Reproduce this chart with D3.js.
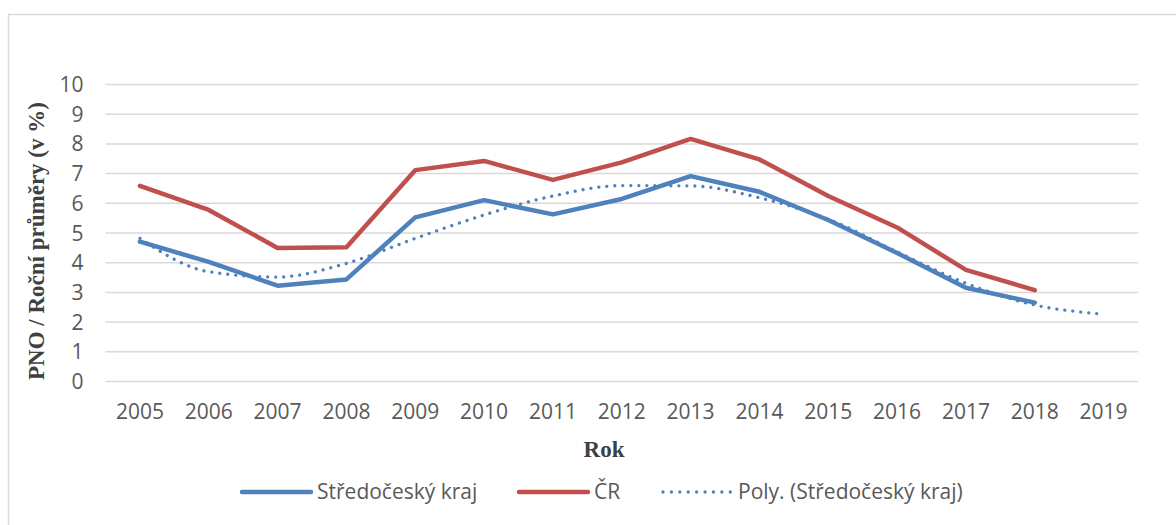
<!DOCTYPE html>
<html>
<head>
<meta charset="utf-8">
<script src="https://cdn.jsdelivr.net/npm/d3@7"></script>
<style>
  body { margin: 0; background: #fff; }
  svg { display: block; }
</style>
</head>
<body>
<div id="chart"></div>
<script>
const years = ['2005', '2006', '2007', '2008', '2009', '2010', '2011', '2012', '2013', '2014', '2015', '2016', '2017', '2018', '2019']
const stredocesky = [4.69, 4.01, 3.21, 3.42, 5.51, 6.09, 5.61, 6.13, 6.9, 6.37, 5.42, 4.31, 3.14, 2.64]
const cr = [6.57, 5.76, 4.48, 4.5, 7.1, 7.41, 6.77, 7.36, 8.15, 7.46, 6.23, 5.17, 3.74, 3.06]
const polyTrend = [4.8, 3.68, 3.5, 3.96, 4.8, 5.59, 6.23, 6.58, 6.57, 6.17, 5.45, 4.35, 3.29, 2.56, 2.25]
const yTicks = [0, 1, 2, 3, 4, 5, 6, 7, 8, 9, 10]

const width = 1176,
      height = 525
const margin = {top: 84, right: 38, bottom: 144, left: 105.5}
const blue = '#4f81bd',
      red = '#c0504d',
      textGray = '#595959'

const svg = d3.select('#chart').append('svg')
  .attr('width', width)
  .attr('height', height)

// chart frame (only top and left edges fall inside the picture)
svg.append('rect')
  .attr('x', 8.5)
  .attr('y', 14.5)
  .attr('width', width + 20)
  .attr('height', height + 20)
  .attr('fill', 'none')
  .attr('stroke', '#d9d9d9')
  .attr('stroke-width', 1.5)

const x = d3.scaleBand()
  .domain(years)
  .range([margin.left, width - margin.right])
const y = d3.scaleLinear()
  .domain([0, 10])
  .range([height - margin.bottom, margin.top])
const cx = d => x(d) + x.bandwidth() / 2

// grid + y labels
const yAxis = svg.append('g')
  .attr('transform', `translate(${margin.left},0)`)
  .call(d3.axisLeft(y)
    .tickValues(yTicks)
    .tickSize(-(width - margin.left - margin.right))
    .tickPadding(22))
yAxis.select('.domain').remove()
yAxis.selectAll('.tick line')
  .attr('stroke', '#d9d9d9')
  .attr('stroke-width', 1.5)
yAxis.selectAll('.tick text')
  .attr('fill', textGray)
  .attr('font-family', 'Open Sans')
  .attr('font-size', 21)
  .attr('dy', '0.36em')

// x labels
const xAxis = svg.append('g')
  .attr('transform', `translate(0,${height - margin.bottom})`)
  .call(d3.axisBottom(x).tickSize(0).tickPadding(23))
xAxis.select('.domain').remove()
xAxis.selectAll('.tick text')
  .attr('fill', textGray)
  .attr('font-family', 'Open Sans')
  .attr('font-size', 21)

// axis titles
svg.append('text')
  .attr('transform', `translate(44,241) rotate(-90)`)
  .attr('text-anchor', 'middle')
  .attr('font-family', 'Liberation Serif')
  .attr('font-weight', 'bold')
  .attr('font-size', 23)
  .attr('fill', '#404040')
  .text('PNO / Roční průměry (v %)')
svg.append('text')
  .attr('x', 604)
  .attr('y', 457)
  .attr('text-anchor', 'middle')
  .attr('font-family', 'Liberation Serif')
  .attr('font-weight', 'bold')
  .attr('font-size', 23)
  .attr('fill', '#404040')
  .text('Rok')

// lines
const line = d3.line()
  .x((d, i) => cx(years[i]))
  .y(d => y(d))
const smooth = d3.line()
  .x((d, i) => cx(years[i]))
  .y(d => y(d))
  .curve(d3.curveMonotoneX)

svg.append('path')
  .datum(cr)
  .attr('d', line)
  .attr('fill', 'none')
  .attr('stroke', red)
  .attr('stroke-width', 4.5)
  .attr('stroke-linejoin', 'round')
  .attr('stroke-linecap', 'round')
svg.append('path')
  .datum(stredocesky)
  .attr('d', line)
  .attr('fill', 'none')
  .attr('stroke', blue)
  .attr('stroke-width', 4.5)
  .attr('stroke-linejoin', 'round')
  .attr('stroke-linecap', 'round')
svg.append('path')
  .datum(polyTrend)
  .attr('d', smooth)
  .attr('fill', 'none')
  .attr('stroke', blue)
  .attr('stroke-width', 3.3)
  .attr('stroke-linecap', 'round')
  .attr('stroke-dasharray', '0.01 8')

// legend
const legendItems = [
  {label: 'Středočeský kraj', x: 242, color: blue, dash: null, w: 4.5},
  {label: 'ČR', x: 519, color: red, dash: null, w: 4.5},
  {label: 'Poly. (Středočeský kraj)', x: 663, color: blue, dash: '0.01 8.4', w: 3.3}
]
const legend = svg.append('g').attr('transform', 'translate(0,492)')
const item = legend.selectAll('g.item')
  .data(legendItems)
  .join('g')
  .attr('class', 'item')
  .attr('transform', d => `translate(${d.x},0)`)
item.append('line')
  .attr('x1', 0)
  .attr('x2', 69)
  .attr('stroke', d => d.color)
  .attr('stroke-width', d => d.w)
  .attr('stroke-linecap', 'round')
  .attr('stroke-dasharray', d => d.dash)
item.append('text')
  .attr('x', 75)
  .attr('dy', '0.35em')
  .attr('font-family', 'Open Sans')
  .attr('font-size', 21)
  .attr('fill', textGray)
  .text(d => d.label)
</script>
</body>
</html>
